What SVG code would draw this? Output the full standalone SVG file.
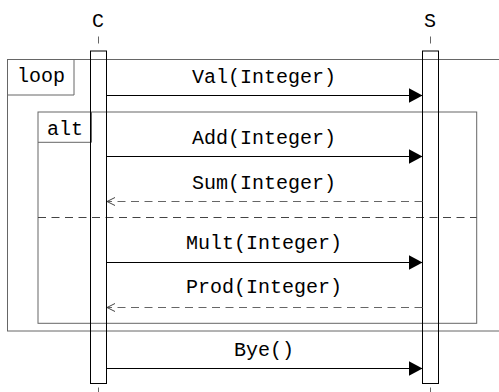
<svg xmlns="http://www.w3.org/2000/svg" width="499" height="392" viewBox="0 0 499 392">
<style>
text{font-family:"Liberation Mono","DejaVu Sans Mono",monospace;font-size:20px;fill:#000;text-anchor:middle}
.frame{fill:none;stroke:#666;stroke-width:1}
.act{fill:none;stroke:#000;stroke-width:1}
.tick{stroke:#666;stroke-width:1}
.msg{fill:none;stroke:#000;stroke-width:1}
.ret{fill:none;stroke:#666;stroke-width:1;stroke-dasharray:8 5.5}
.sep{fill:none;stroke:#444;stroke-width:1;stroke-dasharray:8 5.5}
</style>
<defs>
<marker id="fill" markerUnits="userSpaceOnUse" markerWidth="14" markerHeight="15" refX="14" refY="7.5" orient="auto">
<path d="M0,0 L14,7.5 L0,15 z" fill="#000"/>
</marker>
<marker id="open" markerUnits="userSpaceOnUse" markerWidth="10" markerHeight="10" refX="9" refY="5" orient="auto">
<path d="M1,1 L9,5 L1,9" fill="none" stroke="#444" stroke-width="1"/>
</marker>
</defs>
<g id="loop">
<rect class="frame" x="7.5" y="59.5" width="510" height="271.5"/>
<path class="frame" d="M7.5,95 H74 V59.5"/>
<text x="41" y="82">loop</text>
</g>
<g id="alt">
<rect class="frame" x="38" y="112" width="438.7" height="211.3"/>
<path class="frame" d="M38,142.3 H91.5 V112"/>
<text x="65" y="135">alt</text>
<line class="sep" x1="38" y1="217.5" x2="476.7" y2="217.5"/>
</g>
<g id="C">
<text x="98" y="26.7">C</text>
<line class="tick" x1="98.5" y1="36.5" x2="98.5" y2="43.5"/>
<rect class="act" x="90.5" y="51" width="16" height="332.5"/>
<line class="tick" x1="98.5" y1="387.5" x2="98.5" y2="395"/>
</g>
<g id="S">
<text x="430" y="26.7">S</text>
<line class="tick" x1="430.5" y1="36.5" x2="430.5" y2="43.5"/>
<rect class="act" x="422.5" y="51" width="16" height="332.5"/>
<line class="tick" x1="430.5" y1="387.5" x2="430.5" y2="395"/>
</g>
<g id="connectors">
<line class="msg" x1="106.5" y1="95.5" x2="422.5" y2="95.5" marker-end="url(#fill)"/>
<text x="264" y="83">Val(Integer)</text>
<line class="msg" x1="106.5" y1="156.5" x2="422.5" y2="156.5" marker-end="url(#fill)"/>
<text x="264" y="143.5">Add(Integer)</text>
<line class="ret" x1="422.5" y1="201.5" x2="107" y2="201.5" marker-end="url(#open)"/>
<text x="264" y="188.5">Sum(Integer)</text>
<line class="msg" x1="106.5" y1="262.5" x2="422.5" y2="262.5" marker-end="url(#fill)"/>
<text x="264" y="249">Mult(Integer)</text>
<line class="ret" x1="422.5" y1="307.5" x2="107" y2="307.5" marker-end="url(#open)"/>
<text x="264" y="293">Prod(Integer)</text>
<line class="msg" x1="106.5" y1="368.5" x2="422.5" y2="368.5" marker-end="url(#fill)"/>
<text x="264" y="355.5">Bye()</text>
</g>
</svg>
